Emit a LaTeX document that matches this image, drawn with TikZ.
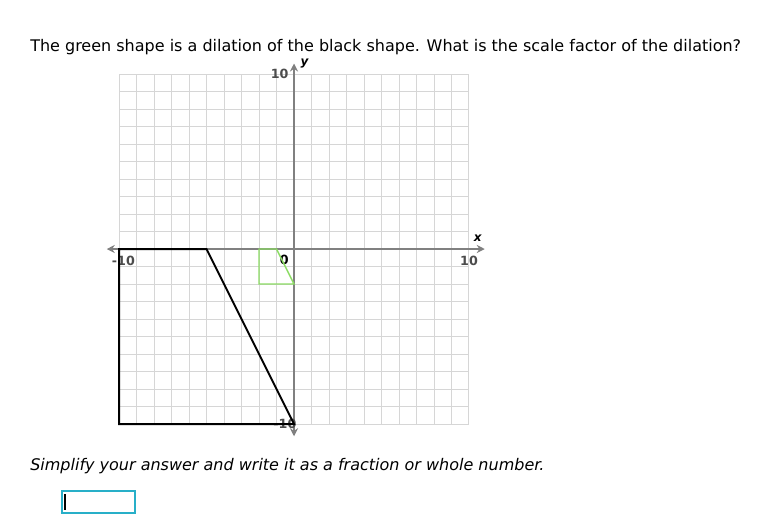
\documentclass[tikz,border=0pt]{standalone}
\usepackage{fontspec}
\setmainfont{DejaVu Sans}
\usetikzlibrary{arrows.meta}
\definecolor{gridgray}{RGB}{214,214,214}
\definecolor{axisgray}{RGB}{128,128,128}
\definecolor{shapegreen}{RGB}{140,220,100}
\definecolor{boxcyan}{RGB}{40,175,200}
\begin{document}
\begin{tikzpicture}[
  x=0.75pt, y=-0.75pt,
  gridline/.style={draw=gridgray, line width=0.75pt},
  axis/.style={draw=axisgray, line width=1.5pt, {Stealth[length=6pt,width=6pt,inset=2pt]}-{Stealth[length=6pt,width=6pt,inset=2pt]}},
  ticklabel/.style={font=\bfseries\fontsize{9.5}{11}\selectfont, text=black!70, inner sep=0pt},
  axislabel/.style={font=\itshape\bfseries\fontsize{9}{10}\selectfont, inner sep=0pt},
  prompt/.style={anchor=base west, inner sep=0pt, font=\fontsize{12}{14}\selectfont}
]
\useasboundingbox[fill=white] (0,0) rectangle (780,522);

% Question
\node[prompt] (question) at (30,51) {The green shape is a dilation of the black shape. What is the scale factor of the dilation?};

% Coordinate plane
\begin{scope}[shift={(294,249)}, x=13.125pt, y=13.125pt]
  \draw[gridline, step=13.125pt] (-10,-10) grid (10,10);
  \draw[axis] (-10.7,0) -- (10.9,0);
  \draw[axis] (0,-10.7) -- (0,10.6);

  % Labels
  \node[ticklabel, anchor=east] (ytop) at (-0.3,10) {10};
  \node[ticklabel, anchor=east] (ybot) at (0.15,-10) {-10};
  \node[ticklabel] (xleft) at (-9.75,-0.7) {-10};
  \node[ticklabel] (xright) at (10,-0.7) {10};
  \node[ticklabel, text=black] (zero) at (-0.55,-0.65) {0};
  \node[axislabel] (xlab) at (10.5,0.6) {x};
  \node[axislabel] (ylab) at (0.6,10.6) {y};

  % Black shape
  \draw[black, line width=1.5pt] (-10,0) -- (-5,0) -- (0,-10) -- (-10,-10) -- cycle;
  % Green shape
  \draw[shapegreen, line width=1.1pt] (-2,0) -- (-1,0) -- (0,-2) -- (-2,-2) -- cycle;
\end{scope}

% Instruction
\node[prompt, font=\itshape\fontsize{12}{14}\selectfont] (simplify) at (30,470) {Simplify your answer and write it as a fraction or whole number.};

% Answer box
\draw[boxcyan, line width=1pt] (62,491) rectangle (135,513);
\draw[black, line width=1pt] (65,494) -- (65,510);
\end{tikzpicture}
\end{document}
